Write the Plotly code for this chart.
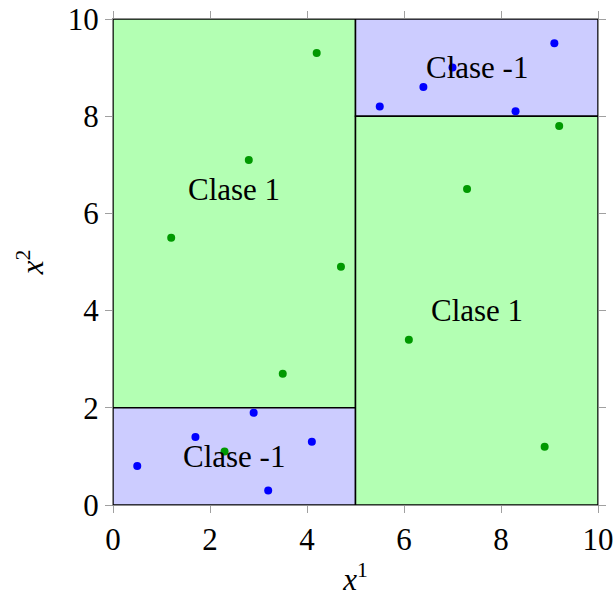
import plotly.graph_objects as go

# Decision regions: (x0, x1, y0, y1, class)
region_x0 = [0, 0, 5, 5]
region_x1 = [5, 5, 10, 10]
region_y0 = [2, 0, 8, 0]
region_y1 = [10, 2, 10, 8]
region_cls = [1, -1, -1, 1]

# Class +1 samples
pos_x = [1.2, 2.8, 4.2, 4.7, 3.5, 2.3, 6.1, 7.3, 9.2, 8.9]
pos_y = [5.5, 7.1, 9.3, 4.9, 2.7, 1.1, 3.4, 6.5, 7.8, 1.2]

# Class -1 samples
neg_x = [0.5, 1.7, 2.9, 3.2, 4.1, 5.5, 6.4, 7.0, 8.3, 9.1]
neg_y = [0.8, 1.4, 1.9, 0.3, 1.3, 8.2, 8.6, 9.0, 8.1, 9.5]

# Region labels
label_x = [2.5, 2.5, 7.5, 7.5]
label_y = [6.5, 1.0, 9.0, 4.0]
label_text = ["Clase 1", "Clase -1", "Clase -1", "Clase 1"]

tick_vals = [0, 2, 4, 6, 8, 10]

FILL = {1: "#b3ffb3", -1: "#ccccff"}
FONT = "Liberation Serif, Times New Roman, DejaVu Serif, serif"
FS = 31

fig = go.Figure()

for x0, x1, y0, y1, c in zip(region_x0, region_x1, region_y0, region_y1, region_cls):
    fig.add_shape(type="rect", xref="x", yref="y", x0=x0, x1=x1, y0=y0, y1=y1,
                  fillcolor=FILL[c], line=dict(color="black", width=1.5), layer="below")

fig.add_trace(go.Scatter(x=pos_x, y=pos_y, mode="markers",
                         marker=dict(color="#009900", size=8), showlegend=False))
fig.add_trace(go.Scatter(x=neg_x, y=neg_y, mode="markers",
                         marker=dict(color="#0000ff", size=8), showlegend=False))

for x, y, t in zip(label_x, label_y, label_text):
    fig.add_annotation(x=x, y=y, text=t, showarrow=False, xref="x", yref="y",
                       font=dict(family=FONT, size=FS, color="black"))

axis_common = dict(
    range=[0, 10], tickvals=tick_vals, showgrid=False, zeroline=False,
    showline=True, linecolor="#8c8c8c", linewidth=1, mirror="ticks",
    ticks="outside", ticklen=7, tickcolor="#a0a0a0", tickwidth=1,
    tickfont=dict(family=FONT, size=FS, color="black"),
    automargin=False,
)

fig.update_xaxes(**axis_common,
                 title=dict(text="<i>x</i><sup>1</sup>", standoff=12,
                            font=dict(family=FONT, size=FS, color="black")))
fig.update_yaxes(**axis_common,
                 title=dict(text="<i>x</i><sup>2</sup>", standoff=14,
                            font=dict(family=FONT, size=FS, color="black")))

fig.update_layout(
    width=614, height=601,
    margin=dict(l=113, r=16, t=19, b=96),
    plot_bgcolor="white", paper_bgcolor="white",
)

fig.write_html("out.html")
